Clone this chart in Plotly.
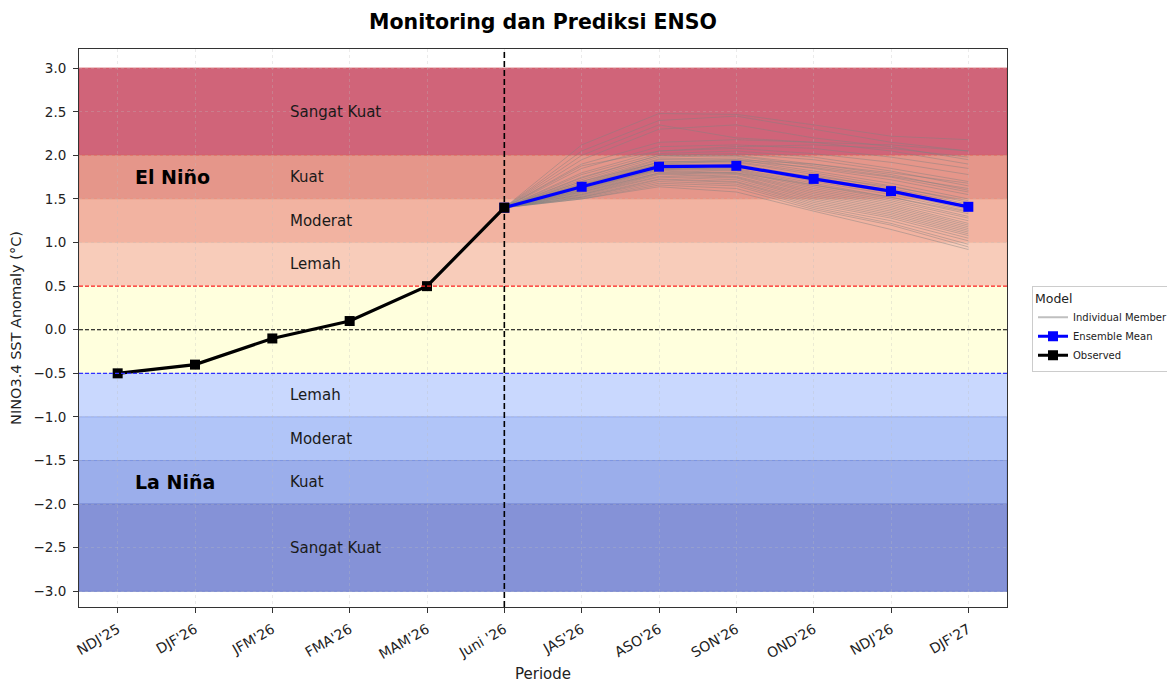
import plotly.graph_objects as go

periods = ["NDJ'25", "DJF'26", "JFM'26", "FMA'26", "MAM'26", "Juni '26",
           "JAS'26", "ASO'26", "SON'26", "OND'26", "NDJ'26", "DJF'27"]

observed = [-0.5, -0.4, -0.1, 0.1, 0.5, 1.4]
ensemble_mean = [1.64, 1.87, 1.88, 1.73, 1.59, 1.41]

members = [
    [2.12, 2.48, 2.47, 2.35, 2.22, 2.18],
    [2.05, 2.40, 2.45, 2.30, 2.15, 2.05],
    [1.95, 2.30, 2.35, 2.20, 2.10, 1.95],
    [1.90, 2.15, 2.18, 2.15, 2.05, 1.90],
    [1.85, 2.10, 2.12, 2.08, 1.98, 1.85],
    [1.80, 2.05, 2.08, 2.02, 1.92, 1.78],
    [1.78, 2.02, 2.05, 1.98, 1.85, 1.70],
    [1.75, 2.00, 2.02, 1.95, 1.82, 1.65],
    [1.72, 1.98, 2.00, 1.90, 1.78, 1.60],
    [1.70, 1.96, 1.97, 1.85, 1.72, 1.55],
    [1.68, 1.95, 1.95, 1.82, 1.68, 1.50],
    [1.67, 1.93, 1.93, 1.80, 1.65, 1.46],
    [1.66, 1.92, 1.92, 1.78, 1.62, 1.44],
    [1.65, 1.90, 1.90, 1.75, 1.60, 1.42],
    [1.64, 1.89, 1.88, 1.72, 1.57, 1.38],
    [1.63, 1.88, 1.87, 1.70, 1.55, 1.36],
    [1.62, 1.87, 1.85, 1.68, 1.52, 1.33],
    [1.61, 1.86, 1.84, 1.66, 1.50, 1.30],
    [1.60, 1.85, 1.83, 1.64, 1.48, 1.28],
    [1.60, 1.84, 1.82, 1.62, 1.46, 1.25],
    [1.59, 1.83, 1.80, 1.60, 1.44, 1.22],
    [1.58, 1.82, 1.79, 1.58, 1.42, 1.20],
    [1.57, 1.80, 1.78, 1.56, 1.40, 1.18],
    [1.56, 1.79, 1.76, 1.54, 1.38, 1.16],
    [1.55, 1.78, 1.75, 1.52, 1.36, 1.14],
    [1.55, 1.76, 1.74, 1.50, 1.34, 1.12],
    [1.54, 1.75, 1.72, 1.48, 1.32, 1.10],
    [1.53, 1.73, 1.70, 1.46, 1.30, 1.08],
    [1.52, 1.72, 1.69, 1.44, 1.28, 1.05],
    [1.52, 1.70, 1.67, 1.42, 1.25, 1.02],
    [1.51, 1.68, 1.65, 1.40, 1.22, 0.98],
    [1.50, 1.66, 1.62, 1.38, 1.20, 0.95],
    [1.50, 1.64, 1.58, 1.36, 1.15, 0.92],
    [1.74, 2.00, 1.99, 1.88, 1.76, 1.62],
    [1.70, 1.92, 1.95, 1.90, 1.80, 1.68],
    [1.66, 1.90, 1.94, 1.86, 1.75, 1.58],
    [1.62, 1.84, 1.86, 1.76, 1.64, 1.48],
    [1.58, 1.80, 1.80, 1.66, 1.52, 1.35],
    [2.00, 2.35, 2.20, 2.15, 2.12, 2.05],
    [1.88, 2.05, 2.10, 2.12, 2.08, 1.98],
]

# bands: (low, high, fill, edge)
band_low = [2.0, 1.5, 1.0, 0.5, -0.5, -1.0, -1.5, -2.0, -3.0]
band_high = [3.0, 2.0, 1.5, 1.0, 0.5, -0.5, -1.0, -1.5, -2.0]
band_fill = ["#D06479", "#E5968A", "#F2B3A1", "#F8CCBA", "#FFFFDD",
             "#C9D8FE", "#B1C5F8", "#9BAEEB", "#8592D7"]
band_edge = ["#D04858", "#E07868", "#EDA08A", "#F4BCA6", "#FFFFDD",
             "#C9D8FE", "#94ACEE", "#7E95E0", "#6F7ECC"]

label_text = ["Sangat Kuat", "Kuat", "Moderat", "Lemah",
              "Lemah", "Moderat", "Kuat", "Sangat Kuat"]
label_y = [2.5, 1.75, 1.25, 0.75, -0.75, -1.25, -1.75, -2.5]

font_family = "DejaVu Sans"
fig = go.Figure()

xi_obs = list(range(len(observed)))
start = len(observed) - 1
xi_fc = list(range(start, start + len(ensemble_mean) + 1))

for m in members:
    fig.add_trace(go.Scatter(
        x=[periods[i] for i in xi_fc], y=[observed[-1]] + m, mode="lines",
        line=dict(color="rgba(128,128,128,0.45)", width=1),
        name="Individual Member", legendgroup="mem", showlegend=False,
        hoverinfo="skip"))

# legend key for the member lines (drawn as a thicker light grey stroke)
fig.add_trace(go.Scatter(
    x=[None], y=[None], mode="lines", name="Individual Member",
    legendgroup="mem", line=dict(color="rgba(128,128,128,0.5)", width=2)))

fig.add_trace(go.Scatter(
    x=[periods[i] for i in xi_fc], y=[observed[-1]] + ensemble_mean,
    mode="lines+markers", name="Ensemble Mean",
    line=dict(color="#0000FF", width=3.2),
    marker=dict(symbol="square", size=10, color="#0000FF")))

fig.add_trace(go.Scatter(
    x=[periods[i] for i in xi_obs], y=observed,
    mode="lines+markers", name="Observed",
    line=dict(color="black", width=3.2),
    marker=dict(symbol="square", size=10, color="black")))

shapes = []
for lo, hi, fc, ec in zip(band_low, band_high, band_fill, band_edge):
    shapes.append(dict(type="rect", xref="paper", yref="y", x0=0, x1=1,
                       y0=lo, y1=hi, fillcolor=fc, layer="below",
                       line=dict(color=ec, width=1)))
shapes.append(dict(type="line", xref="paper", yref="y", x0=0, x1=1, y0=0.5, y1=0.5,
                   line=dict(color="#FF2020", width=1.1, dash="4px,2px"), layer="above"))
shapes.append(dict(type="line", xref="paper", yref="y", x0=0, x1=1, y0=0, y1=0,
                   line=dict(color="black", width=1.1, dash="4px,2px"), layer="above"))
shapes.append(dict(type="line", xref="paper", yref="y", x0=0, x1=1, y0=-0.5, y1=-0.5,
                   line=dict(color="#3030FF", width=1.1, dash="4px,2px"), layer="above"))
shapes.append(dict(type="line", xref="x", yref="paper", x0=periods[start], x1=periods[start],
                   y0=0, y1=1, line=dict(color="black", width=1.6, dash="6px,3px"),
                   layer="above"))

annotations = []
for t, yv in zip(label_text, label_y):
    annotations.append(dict(x=2.2, y=yv, xref="x", yref="y", text=t,
                            showarrow=False, xanchor="left", yanchor="middle",
                            font=dict(family=font_family, size=15, color="#1a1a1a")))
annotations.append(dict(x=0.2, y=1.75, xref="x", yref="y", text="<b>El Niño</b>",
                        showarrow=False, xanchor="left", yanchor="middle",
                        font=dict(family=font_family, size=19, color="black")))
annotations.append(dict(x=0.2, y=-1.75, xref="x", yref="y", text="<b>La Niña</b>",
                        showarrow=False, xanchor="left", yanchor="middle",
                        font=dict(family=font_family, size=19, color="black")))

# The page body adds an 8px offset; margins compensate for it.
fig.update_layout(
    width=1175, height=681,
    margin=dict(l=71, r=176, t=41, b=82, autoexpand=False),
    paper_bgcolor="white", plot_bgcolor="white",
    font=dict(family=font_family, color="#222"),
    title=dict(text="<b>Monitoring dan Prediksi ENSO</b>", x=0.5, xref="paper",
               xanchor="center", y=1 - 14 / 681, yref="container", yanchor="middle",
               font=dict(family=font_family, size=20.5, color="black")),
    shapes=shapes, annotations=annotations,
    legend=dict(title=dict(text="Model", font=dict(size=12.5)),
                font=dict(size=10, family=font_family),
                xref="container", yref="container",
                x=1024 / 1175, xanchor="left", y=1 - 320.5 / 681, yanchor="middle",
                bordercolor="#cccccc", borderwidth=1, bgcolor="white",
                tracegroupgap=0),
    showlegend=True,
)

fig.update_xaxes(
    type="category", categoryorder="array", categoryarray=periods,
    range=[-0.5, 11.5], tickangle=-30, automargin=False,
    tickfont=dict(size=14, color="#222"), ticklabelstandoff=3,
    title=dict(text="Periode", font=dict(size=15, color="#222"), standoff=7),
    showline=True, linecolor="#333", linewidth=1, mirror=True,
    ticks="outside", ticklen=5, tickcolor="#333",
    showgrid=True, gridcolor="rgba(190,190,190,0.3)", griddash="dot", gridwidth=1,
    zeroline=False)

fig.update_yaxes(
    range=[-3.18, 3.22], tickmode="array", automargin=False,
    tickvals=[-3.0, -2.5, -2.0, -1.5, -1.0, -0.5, 0.0, 0.5, 1.0, 1.5, 2.0, 2.5, 3.0],
    tickformat=".1f",
    tickfont=dict(size=13.5, color="#222"), ticklabelstandoff=4,
    title=dict(text="NINO3.4 SST Anomaly (°C)", font=dict(size=14.5, color="#222"), standoff=8),
    showline=True, linecolor="#333", linewidth=1, mirror=True,
    ticks="outside", ticklen=5, tickcolor="#333",
    showgrid=True, gridcolor="rgba(190,190,190,0.3)", griddash="dot", gridwidth=1,
    zeroline=False)

fig.write_html("out.html")
